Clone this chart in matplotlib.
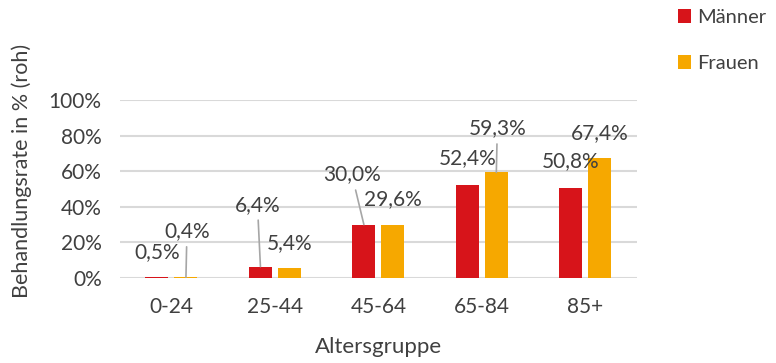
import matplotlib.pyplot as plt
import numpy as np

# Behandlungsrate nach Altersgruppe und Geschlecht
groups = ['0-24', '25-44', '45-64', '65-84', '85+']
maenner = [0.5, 6.4, 30.0, 52.4, 50.8]
frauen = [0.4, 5.4, 29.6, 59.3, 67.4]
yticks = [0, 20, 40, 60, 80, 100]

red = '#D7141A'
orange = '#F6A800'
text_col = '#404040'
grid_col = '#D9D9D9'

plt.rcParams['font.family'] = ['Lato', 'DejaVu Sans']

fig = plt.figure(figsize=(7.76, 3.63), dpi=100)
ax = fig.add_axes([0.1543, 0.2342, 0.6666, 0.4903])

x = np.arange(len(groups))
w = 0.222
off = 0.14
bm = ax.bar(x - off, maenner, w, color=red, label='Männer', zorder=3)
bf = ax.bar(x + off, frauen, w, color=orange, label='Frauen', zorder=3)

# label offsets in pixels (dx, dy) from the bar top, and whether a leader line is drawn
m_offsets = [(0, 25, False), (-3, 62, True), (-12, 50, True), (0, 27, False), (0, 26, False)]
f_offsets = [(1, 46, True), (0, 25, False), (0, 26, False), (1, 44, True), (0, 25, False)]

def label(bars, vals, offsets):
    for b, v, (dx, dy, lead) in zip(bars, vals, offsets):
        xc = b.get_x() + b.get_width() / 2
        txt = f'{v:.1f}%'.replace('.', ',')
        kw = {}
        if lead:
            kw['arrowprops'] = dict(arrowstyle='-', color='#A6A6A6', lw=1.2,
                                    shrinkA=2, shrinkB=0)
        ax.annotate(txt, (xc, v), xytext=(dx, dy), textcoords='offset pixels',
                    ha='center', va='center', fontsize=15, color=text_col,
                    annotation_clip=False, **kw)

label(bm, maenner, m_offsets)
label(bf, frauen, f_offsets)

ax.set_xlim(-0.5, len(groups) - 0.5)
ax.set_ylim(0, 100)
ax.set_yticks(yticks)
ax.set_yticklabels([f'{t}%' for t in yticks])
ax.set_xticks(x)
ax.set_xticklabels(groups)
ax.tick_params(length=0, labelsize=15, colors=text_col)
ax.tick_params(axis='x', pad=14)
ax.tick_params(axis='y', pad=13)
ax.yaxis.grid(True, color=grid_col, lw=1.5, zorder=0)
for s in ax.spines.values():
    s.set_visible(False)

ax.set_xlabel('Altersgruppe', fontsize=16, color=text_col, labelpad=14)
ax.set_ylabel('Behandlungsrate in % (roh)', fontsize=15.5, color=text_col)
ax.yaxis.set_label_coords(-0.17, 0.6)

fig.legend(handles=[bm, bf], loc='upper left', bbox_to_anchor=(0.85, 1.025),
           frameon=False, fontsize=14.5, labelcolor=text_col,
           handlelength=0.65, handleheight=0.65, handletextpad=0.3, labelspacing=1.45)

fig.savefig('out.png', dpi=100)
